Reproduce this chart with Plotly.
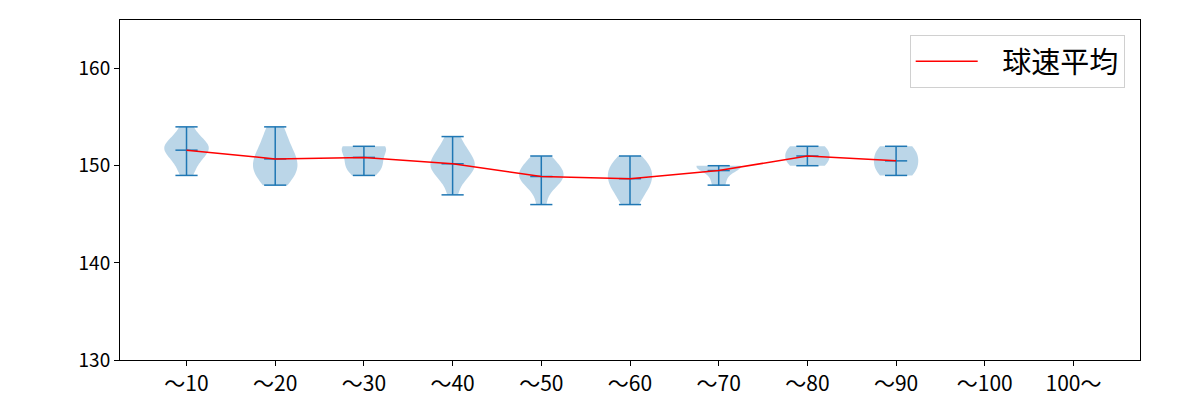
import numpy as np
import plotly.graph_objects as go

categories = ["～10", "～20", "～30", "～40", "～50", "～60", "～70", "～80", "～90", "～100", "100～"]

speeds_10 = [149, 150, 151, 151, 152, 152, 152, 152, 153, 154]
speeds_20 = [148, 149, 149, 150, 150, 151, 151, 152, 153, 154]
speeds_30 = [149, 150, 150, 151, 152, 152, 152]
speeds_40 = [147, 149, 149, 150, 150, 150, 151, 151, 152, 153]
speeds_50 = [146, 148, 148, 149, 149, 149, 150, 150, 151]
speeds_60 = [146, 147, 148, 148, 149, 149, 150, 150, 151]
speeds_70 = [148, 149, 150, 150, 150, 150]
speeds_80 = [150, 151, 152]
speeds_90 = [149, 150, 151, 152]
speeds_100 = []
speeds_over = []

groups = [speeds_10, speeds_20, speeds_30, speeds_40, speeds_50, speeds_60,
          speeds_70, speeds_80, speeds_90, speeds_100, speeds_over]

BLUE = "#1f77b4"
fig = go.Figure()

positions = list(range(1, len(categories) + 1))
mean_x, mean_y = [], []
for pos, data in zip(positions, groups):
    if len(data) == 0:
        continue
    arr = np.array(data, dtype=float)
    bw = arr.std(ddof=1) * len(arr) ** (-0.2)
    fig.add_trace(go.Violin(
        x=[pos] * len(arr), y=arr, spanmode="hard", width=0.5, scalemode="width",
        bandwidth=bw, fillcolor="rgba(31,119,180,0.3)", line=dict(width=0),
        points=False, showlegend=False, hoverinfo="skip", box=dict(visible=False),
        meanline=dict(visible=False),
    ))
    mn, mx, mean = arr.min(), arr.max(), arr.mean()
    mean_x.append(pos)
    mean_y.append(mean)
    hw = 0.125
    xs = [pos, pos, None, pos - hw, pos + hw, None, pos - hw, pos + hw, None, pos - hw, pos + hw]
    ys = [mn, mx, None, mn, mn, None, mx, mx, None, mean, mean]
    fig.add_trace(go.Scatter(x=xs, y=ys, mode="lines", line=dict(color=BLUE, width=1.5),
                             showlegend=False, hoverinfo="skip"))

fig.add_trace(go.Scatter(x=mean_x, y=mean_y, mode="lines", line=dict(color="red", width=1.5),
                         name="\u00a0\u00a0\u00a0球速平均"))

font = "Noto Sans CJK JP, DejaVu Sans, sans-serif"
fig.update_layout(
    width=1200, height=400,
    margin=dict(l=120, r=60, t=20, b=40),
    plot_bgcolor="white", paper_bgcolor="white",
    violinmode="overlay",
    font=dict(family=font, size=19, color="black"),
    legend=dict(x=0.985, y=0.956, xanchor="right", yanchor="top", itemwidth=62,
                bordercolor="#d0d0d0", borderwidth=1, bgcolor="rgba(255,255,255,0.8)",
                font=dict(size=29, family=font)),
    xaxis=dict(range=[0.25, 11.75], tickmode="array", tickvals=positions, ticktext=categories,
               showgrid=False, zeroline=False, showline=True, linecolor="black", linewidth=1,
               mirror=True, ticks="outside", ticklen=5, tickcolor="black", automargin=False,
               tickfont=dict(size=21)),
    yaxis=dict(range=[130, 165], tickvals=[130, 140, 150, 160], showgrid=False, zeroline=False,
               showline=True, linecolor="black", linewidth=1, mirror=True, ticks="outside",
               ticklen=5, tickcolor="black", automargin=False, tickfont=dict(size=19)),
)

fig.write_html("out.html")
